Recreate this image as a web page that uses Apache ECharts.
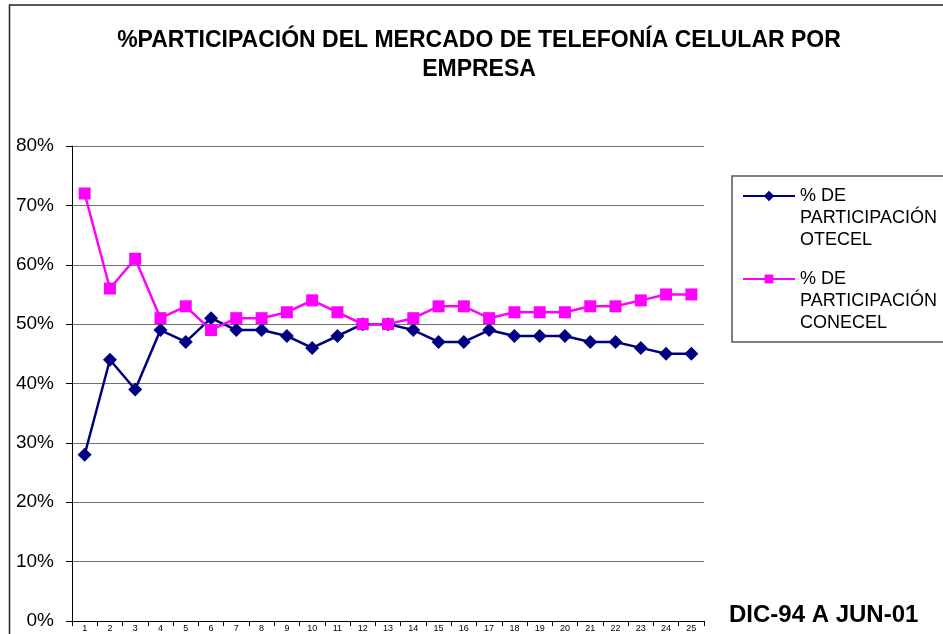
<!DOCTYPE html>
<html>
<head>
<meta charset="utf-8">
<script src="https://cdn.jsdelivr.net/npm/echarts@6/dist/echarts.min.js"></script>
<style>html,body{margin:0;padding:0;background:#fff}#c{width:943px;height:634px}</style>
</head>
<body>
<div id="c"></div>
<script>
var categories = ['1','2','3','4','5','6','7','8','9','10','11','12','13','14','15','16','17','18','19','20','21','22','23','24','25'];
var otecel = [28,44,39,49,47,51,49,49,48,46,48,50,50,49,47,47,49,48,48,48,47,47,46,45,45];
var conecel = [72,56,61,51,53,49,51,51,52,54,52,50,50,51,53,53,51,52,52,52,53,53,54,55,55];
var seriesNames = ['% DE PARTICIPACIÓN OTECEL', '% DE PARTICIPACIÓN CONECEL'];
var yTicks = [0,10,20,30,40,50,60,70,80];

var chart = echarts.init(document.getElementById('c'));
var FONT = '"Liberation Sans", Arial, sans-serif';
function legendFmt(n){ return '\n\n' + n.replace('% DE ', '% DE\n').replace('PARTICIPACIÓN ', 'PARTICIPACIÓN\n'); }
var legendText = {fontFamily: FONT, fontSize: 18, color: '#000', lineHeight: 22};
chart.setOption({
  animation: false,
  backgroundColor: '#fff',
  title: [{
    text: '%PARTICIPACIÓN DEL MERCADO DE TELEFONÍA CELULAR POR\nEMPRESA',
    left: 474, top: 21, padding: 5, textAlign: 'center',
    textStyle: {fontFamily: FONT, fontWeight: 'bold', fontSize: 23, lineHeight: 29, color: '#000'}
  }, {
    text: 'DIC-94 A JUN-01',
    left: 729, top: 603, padding: 0,
    textStyle: {fontFamily: FONT, fontWeight: 'bold', fontSize: 24, color: '#000'}
  }],
  graphic: [{
    type: 'rect', silent: true,
    shape: {x: 9.5, y: 5, width: 1200, height: 1200},
    style: {fill: 'none', stroke: '#222', lineWidth: 1.5}
  }, {
    type: 'rect', silent: true,
    shape: {x: 732, y: 176, width: 400, height: 166},
    style: {fill: 'none', stroke: '#555', lineWidth: 1.5}
  }],
  legend: [{
    data: [seriesNames[0]], left: 742, top: 141, padding: 0,
    itemWidth: 52, itemHeight: 13, formatter: legendFmt, textStyle: legendText
  }, {
    data: [seriesNames[1]], left: 742, top: 224, padding: 0,
    itemWidth: 52, itemHeight: 11, formatter: legendFmt, textStyle: legendText
  }],
  grid: {left: 72, right: 239, top: 146, bottom: 13, containLabel: false},
  xAxis: {
    type: 'category', data: categories, boundaryGap: true,
    axisLine: {lineStyle: {color: '#000', width: 1}},
    axisTick: {show: true, length: 5, lineStyle: {color: '#000'}},
    axisLabel: {fontFamily: FONT, fontSize: 9, color: '#000', margin: 3, interval: 0}
  },
  yAxis: {
    type: 'value', min: 0, max: 80, interval: 10,
    axisLine: {show: true, lineStyle: {color: '#000', width: 1}},
    axisTick: {show: true, length: 6, lineStyle: {color: '#000'}},
    axisLabel: {fontFamily: FONT, fontSize: 19, color: '#000', margin: 18,
      formatter: function(v){ return yTicks.indexOf(v) >= 0 ? v + '%' : ''; }},
    splitLine: {show: true, lineStyle: {color: '#707070', width: 1}}
  },
  series: [{
    name: seriesNames[0], type: 'line', data: otecel,
    symbol: 'diamond', symbolSize: 14,
    itemStyle: {color: '#000080'},
    lineStyle: {color: '#000080', width: 2.5}
  }, {
    name: seriesNames[1], type: 'line', data: conecel,
    symbol: 'rect', symbolSize: 12,
    itemStyle: {color: '#FF00FF'},
    lineStyle: {color: '#FF00FF', width: 2.5}
  }]
});
</script>
</body>
</html>
